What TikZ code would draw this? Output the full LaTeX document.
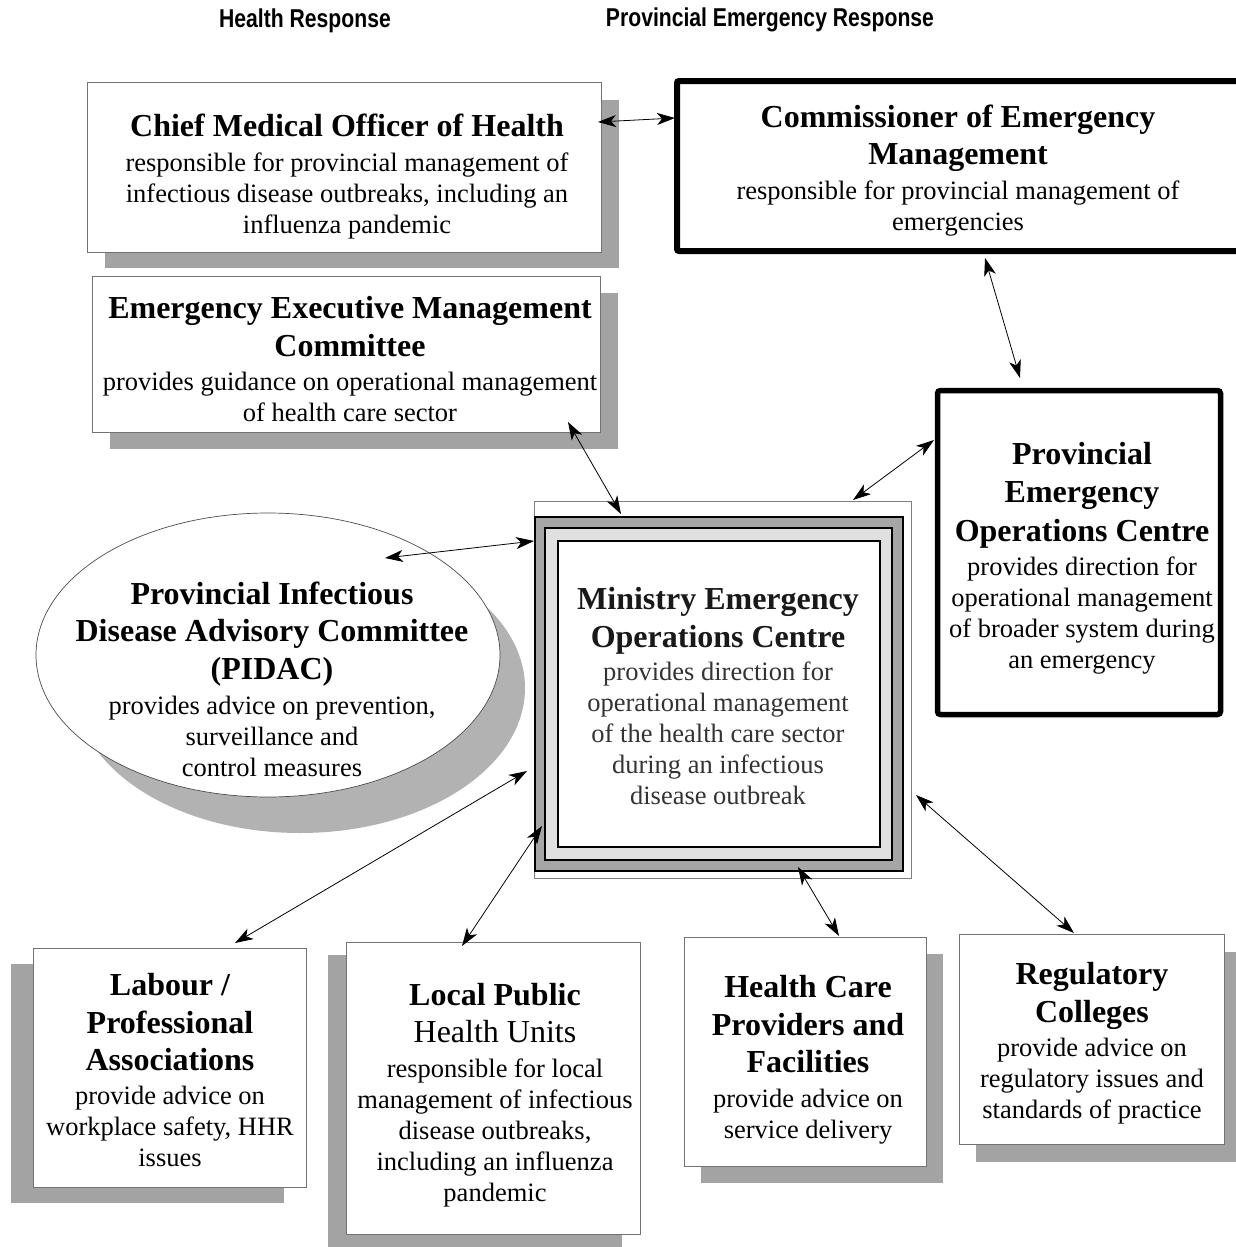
\documentclass[tikz,border=0pt]{standalone}
\usepackage{fontspec}
\setmainfont{Liberation Serif}
\newfontfamily\hdrfont[FakeStretch=0.82]{Liberation Sans}
\usetikzlibrary{arrows.meta,calc,shapes.geometric}

% title and body type
\newcommand\ttlf{\fontsize{32}{31}\selectfont\bfseries}
\newcommand\bdyf{\fontsize{26.5}{31}\selectfont}

\tikzset{
  panel/.style={draw=black!55, line width=0.7pt, fill=white, inner sep=0pt, outer sep=0pt},
  heavy/.style={draw=black, line width=6pt, fill=white, inner sep=0pt, outer sep=0pt, rounded corners=2pt},
  shade/.style={fill=black!36, draw=none},
  txt/.style={align=center, inner sep=0pt, outer sep=0pt, anchor=north, font=\bdyf},
  hdr/.style={inner sep=0pt, font=\hdrfont\bfseries\fontsize{25.8}{28}\selectfont},
  link/.style={line width=0.8pt, {Stealth[length=18pt,width=12pt,inset=5pt]}-{Stealth[length=18pt,width=12pt,inset=5pt]}},
}

\begin{document}
\begin{tikzpicture}[x=1pt,y=-1pt]
\useasboundingbox (0,0) rectangle (1236,1247);
\fill[white] (0,0) rectangle (1236,1247);

% column headings
\node[hdr] (hhealth) at (305,21) {Health Response};
\node[hdr] (hprov) at (770,20) {Provincial Emergency Response};

% drop shadows
\fill[shade] (105,100) rectangle (619,268);
\fill[shade] (110,293) rectangle (618,449);
\fill[shade] (11,964) rectangle (284,1203);
\fill[shade] (328,955) rectangle (622,1247);
\fill[shade] (701,954) rectangle (943,1183);
\fill[shade] (976,952) rectangle (1241,1162);
\node[ellipse, fill=black!30, minimum width=450pt, minimum height=290pt, inner sep=0pt] (pidacshadow) at (300,688) {};

% boxes
\node[panel, minimum width=514pt, minimum height=170pt] (cmoh) at (344,167) {};
\node[panel, minimum width=508pt, minimum height=156pt] (eemc) at (346,354) {};
\node[heavy, minimum width=573pt, minimum height=170pt] (com) at (963.5,166) {};
\node[heavy, line width=5.5pt, rounded corners=3pt, minimum width=283pt, minimum height=324pt] (peoc) at (1079,552.5) {};
\node[ellipse, draw=black!70, line width=0.7pt, fill=white, minimum width=464pt, minimum height=284pt, inner sep=0pt, outer sep=0pt] (pidac) at (268,655) {};
\node[panel, minimum width=273pt, minimum height=239pt] (labour) at (169.5,1067.5) {};
\node[panel, minimum width=294pt, minimum height=292pt] (lphu) at (493,1088) {};
\node[panel, minimum width=242pt, minimum height=229pt] (hcp) at (805,1051.5) {};
\node[panel, minimum width=265pt, minimum height=210pt] (reg) at (1091.5,1039) {};

% ministry centre: framed triple border
\node[draw=black!50, line width=0.8pt, fill=white, inner sep=0pt, outer sep=0pt, minimum width=377pt, minimum height=377pt] (meoc) at (722.5,690) {};
\filldraw[fill=black!35, draw=black, line width=2.5pt] (535,517) rectangle (903,871);
\filldraw[fill=black!12, draw=black, line width=2.5pt] (545,528) rectangle (892,860);
\filldraw[fill=white, draw=black, line width=1.5pt] (558,541) rectangle (880,847);

% texts
\node[txt] (cmoht) at (347,113.5) {{\ttlf Chief Medical Officer of Health}\\[4.5pt]
  responsible for provincial management of\\
  infectious disease outbreaks, including an\\
  influenza pandemic};
\node[txt] (eemct) at (350,296.5) {{\ttlf Emergency Executive Management}\\[6.5pt]
  {\ttlf Committee}\\[3.5pt]
  provides guidance on operational management\\
  of health care sector};
\node[txt] (comt) at (958,104.5) {{\ttlf Commissioner of Emergency}\\[6.5pt]
  {\ttlf Management}\\[3.5pt]
  responsible for provincial management of\\
  emergencies};
\node[txt] (peoct) at (1082,442) {{\ttlf Provincial}\\[7.5pt]
  {\ttlf Emergency}\\[7.5pt]
  {\ttlf Operations Centre}\\[3pt]
  provides direction for\\
  operational management\\
  of broader system during\\
  an emergency};
\node[txt, text=black!80] (meoct) at (718,587) {{\ttlf\color{black!90} Ministry Emergency}\\[7pt]
  {\ttlf\color{black!90} Operations Centre}\\[2pt]
  provides direction for\\
  operational management\\
  of the health care sector\\
  during an infectious\\
  disease outbreak};
\node[txt] (pidact) at (272,581.5) {{\ttlf Provincial Infectious}\\[6.5pt]
  {\ttlf Disease Advisory Committee}\\[6.5pt]
  {\ttlf (PIDAC)}\\[4pt]
  provides advice on prevention,\\
  surveillance and\\
  control measures};
\node[txt] (labourt) at (170,973.5) {{\ttlf Labour /}\\[6.5pt]
  {\ttlf Professional}\\[6.5pt]
  {\ttlf Associations}\\[3pt]
  provide advice on\\
  workplace safety, HHR\\
  issues};
\node[txt] (lphut) at (495,983.5) {{\ttlf Local Public}\\[6pt]
  {\fontsize{32}{31}\selectfont Health Units}\\[4pt]
  responsible for local\\
  management of infectious\\
  disease outbreaks,\\
  including an influenza\\
  pandemic};
\node[txt] (hcpt) at (808,975.5) {{\ttlf Health Care}\\[6.5pt]
  {\ttlf Providers and}\\[6.5pt]
  {\ttlf Facilities}\\[4pt]
  provide advice on\\
  service delivery};
\node[txt] (regt) at (1092,962.5) {{\ttlf Regulatory}\\[7pt]
  {\ttlf Colleges}\\[3pt]
  provide advice on\\
  regulatory issues and\\
  standards of practice};

% connectors
\draw[link] ($(cmoh.north east)+(-3,40)$) -- ($(com.north west)+(-2,37)$);
\draw[link] ($(com.south)+(21.5,7)$) -- ($(peoc.north)+(-59,-12.5)$);
\draw[link] ($(peoc.north west)+(-3.5,49.5)$) -- ($(meoc.north)+(130.5,-1.5)$);
\draw[link] ($(eemc.south east)+(-32,-10)$) -- ($(meoc.north)+(-101.5,12.5)$);
\draw[link] ($(pidac.center)+(117,-97)$) -- ($(meoc.north west)+(0,39.5)$);
\draw[link] ($(meoc.south west)+(-7,-107.5)$) -- ($(labour.north)+(65.5,-5)$);
\draw[link] ($(meoc.south west)+(8,-52.5)$) -- ($(lphu.north)+(-31,4)$);
\draw[link] ($(meoc.south)+(75.5,-11.5)$) -- ($(hcp.north)+(34,-1)$);
\draw[link] ($(meoc.south east)+(5,-83.5)$) -- ($(reg.north)+(-17.5,-1)$);
\end{tikzpicture}
\end{document}
